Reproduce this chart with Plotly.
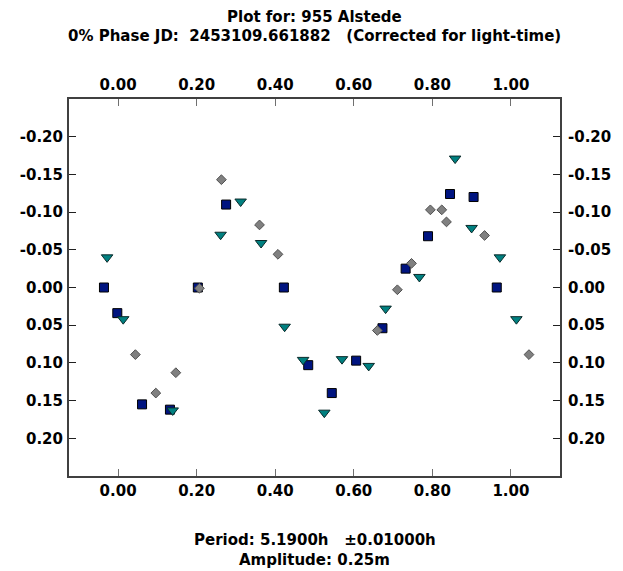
import plotly.graph_objects as go

# ---- data (phase, magnitude) ----
sq_phase = [-0.036, -0.002, 0.061, 0.132, 0.203, 0.275, 0.422, 0.484, 0.544,
            0.606, 0.673, 0.732, 0.789, 0.845, 0.905, 0.964]
sq_mag = [0.000, 0.034, 0.155, 0.162, 0.000, -0.110, 0.000, 0.103, 0.140,
          0.097, 0.054, -0.025, -0.068, -0.124, -0.120, 0.000]

tri_phase = [-0.028, 0.013, 0.139, 0.261, 0.312, 0.364, 0.424, 0.471, 0.525,
             0.570, 0.638, 0.681, 0.767, 0.858, 0.900, 0.972, 1.014]
tri_mag = [-0.040, 0.042, 0.163, -0.070, -0.114, -0.059, 0.052, 0.096, 0.166,
           0.095, 0.104, 0.028, -0.014, -0.171, -0.079, -0.040, 0.042]

dia_phase = [0.044, 0.096, 0.147, 0.207, 0.263, 0.360, 0.407, 0.660, 0.711,
             0.747, 0.795, 0.824, 0.836, 0.933, 1.046]
dia_mag = [0.089, 0.140, 0.113, 0.001, -0.143, -0.083, -0.044, 0.057, 0.003,
           -0.032, -0.103, -0.103, -0.087, -0.069, 0.089]

x_tickvals = [0.0, 0.2, 0.4, 0.6, 0.8, 1.0]
x_ticktext = ["0.00", "0.20", "0.40", "0.60", "0.80", "1.00"]
y_tickvals = [-0.20, -0.15, -0.10, -0.05, 0.00, 0.05, 0.10, 0.15, 0.20]
y_ticktext = ["-0.20", "-0.15", "-0.10", "-0.05", "0.00", "0.05", "0.10", "0.15", "0.20"]

title1 = "Plot for: 955 Alstede"
title2 = "0% Phase JD:\u00a0\u00a02453109.661882\u00a0\u00a0\u00a0(Corrected for light-time)"
foot1 = "Period: 5.1900h\u00a0\u00a0\u00a0\u00b10.01000h"
foot2 = "Amplitude: 0.25m"

FONT = "DejaVu Sans, Verdana, sans-serif"

fig = go.Figure()
fig.add_trace(go.Scatter(x=sq_phase, y=sq_mag, mode="markers",
                         marker=dict(symbol="square", size=9, color="#001480",
                                     line=dict(color="#000000", width=1))))
fig.add_trace(go.Scatter(x=tri_phase, y=tri_mag, mode="markers",
                         marker=dict(symbol="triangle-down", size=10, color="#008080",
                                     line=dict(color="#0a2a2a", width=1))))
fig.add_trace(go.Scatter(x=dia_phase, y=dia_mag, mode="markers",
                         marker=dict(symbol="diamond", size=7.5, color="#808080",
                                     line=dict(color="#505050", width=1))))
# empty trace so that the mirrored (top / right) axes get drawn
fig.add_trace(go.Scatter(x=[], y=[], xaxis="x2", yaxis="y2", mode="markers"))

tickfont = dict(family=FONT, size=15, color="#000000", weight="bold")
axis_common = dict(showgrid=False, zeroline=False, showline=True,
                   linecolor="#404040", linewidth=2,
                   ticks="inside", ticklen=7, tickwidth=1,
                   tickfont=tickfont)

# the page body has an 8px margin, so the figure is sized/offset to compensate
fig.update_layout(
    width=615, height=563,
    margin=dict(l=53, r=55, t=91, b=95),
    paper_bgcolor="white", plot_bgcolor="white",
    showlegend=False,
    xaxis=dict(range=[-0.125, 1.125], tickvals=x_tickvals, ticktext=x_ticktext,
               ticklabelstandoff=0, tickcolor="#707070", **axis_common),
    xaxis2=dict(range=[-0.125, 1.125], tickvals=x_tickvals, ticktext=x_ticktext,
                overlaying="x", side="top", anchor="y",
                ticklabelstandoff=1, tickcolor="#707070", **axis_common),
    yaxis=dict(range=[0.25, -0.25], tickvals=y_tickvals, ticktext=y_ticktext,
               ticklabelstandoff=1, tickcolor="#202020", **axis_common),
    yaxis2=dict(range=[0.25, -0.25], tickvals=y_tickvals, ticktext=y_ticktext,
                overlaying="y", side="right", anchor="x",
                ticklabelstandoff=3, tickcolor="#202020", **axis_common),
)

ann_font = dict(family=FONT, size=15, color="#000000", weight="bold")
for text, yy in [(title1, 1.218), (title2, 1.1671), (foot1, -0.1698), (foot2, -0.2228)]:
    fig.add_annotation(text=text, x=0.5, y=yy, xref="paper", yref="paper",
                       xanchor="center", yanchor="middle", showarrow=False,
                       font=ann_font)

fig.write_html("out.html")
